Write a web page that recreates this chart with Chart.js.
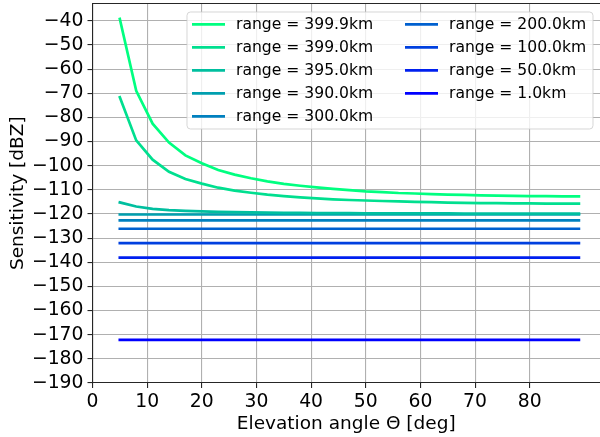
<!DOCTYPE html>
<html>
<head>
<meta charset="utf-8">
<script src="https://cdn.jsdelivr.net/npm/chart.js@4/dist/chart.umd.min.js"></script>
<style>
  html, body { margin: 0; padding: 0; background: #fff; overflow: hidden; }
  #wrap { width: 600px; height: 437px; position: relative; }
  #c { display: block; }
</style>
</head>
<body>
<div id="wrap"><canvas id="c" width="600" height="437"></canvas></div>
<script>
// Elevation angles [deg]
const elevation = [5, 8, 11, 14, 17, 20, 23, 26, 29, 32, 35, 38, 41, 44, 47, 50,
                   53, 56, 59, 62, 65, 68, 71, 74, 77, 80, 83, 86, 89];

// Sensitivity [dBZ] per range
const sens399_9 = [-39.2, -69.0, -82.6, -90.4, -95.7, -99.0, -101.8, -103.7, -105.2, -106.5,
                   -107.5, -108.3, -109.0, -109.6, -110.1, -110.6, -110.9, -111.3, -111.5,
                   -111.8, -112.0, -112.1, -112.3, -112.4, -112.5, -112.6, -112.6, -112.7, -112.7];
const sens399_0 = [-71.6, -89.5, -97.5, -102.5, -105.5, -107.4, -109.1, -110.3, -111.2, -112.0,
                   -112.6, -113.1, -113.5, -113.9, -114.2, -114.4, -114.6, -114.8, -115.0,
                   -115.1, -115.3, -115.4, -115.5, -115.5, -115.6, -115.6, -115.7, -115.7, -115.7];
const sens395_0 = [-115.2, -116.9, -117.9, -118.4, -118.7, -118.9, -119.1, -119.2, -119.3, -119.4,
                   -119.5, -119.5, -119.6, -119.6, -119.6, -119.7, -119.7, -119.7, -119.7,
                   -119.7, -119.7, -119.8, -119.8, -119.8, -119.8, -119.8, -119.8, -119.8, -119.8];
const sens390_0 = elevation.map(() => -120.2);
const sens300_0 = elevation.map(() => -122.6);
const sens200_0 = elevation.map(() => -126.1);
const sens100_0 = elevation.map(() => -132.1);
const sens50_0  = elevation.map(() => -138.1);
const sens1_0   = elevation.map(() => -172.1);

const rangeLabels = ['range = 399.9km', 'range = 399.0km', 'range = 395.0km', 'range = 390.0km',
                     'range = 300.0km', 'range = 200.0km', 'range = 100.0km', 'range = 50.0km',
                     'range = 1.0km'];
const seriesValues = [sens399_9, sens399_0, sens395_0, sens390_0, sens300_0,
                      sens200_0, sens100_0, sens50_0, sens1_0];
// winter colormap, green end to blue end
const seriesColors = ['rgb(0,255,128)', 'rgb(0,223,143)', 'rgb(0,191,159)', 'rgb(0,159,175)',
                      'rgb(0,128,191)', 'rgb(0,96,207)', 'rgb(0,64,223)', 'rgb(0,32,239)',
                      'rgb(0,0,255)'];

const xTicks = [0, 10, 20, 30, 40, 50, 60, 70, 80];
const yTicks = [-190, -180, -170, -160, -150, -140, -130, -120, -110, -100,
                -90, -80, -70, -60, -50, -40];

const FONT = 'DejaVu Sans';
const TICK_SIZE = 18.8;
const TITLE_SIZE = 18.5;
const LEGEND_SIZE = 15.6;
const minus = v => String(v).replace('-', '\u2212');
const gridColor = list => c => (c.tick && list.includes(c.tick.value)) ? '#b0b0b0' : 'rgba(0,0,0,0)';

const datasets = seriesValues.map((vals, i) => ({
  label: rangeLabels[i],
  data: elevation.map((x, j) => ({ x: x, y: vals[j] })),
  borderColor: seriesColors[i],
  backgroundColor: seriesColors[i],
  borderWidth: 2.7,
  borderCapStyle: 'square',
  pointRadius: 0,
  tension: 0,
  fill: false
}));

// top spine and the boxed two-column legend
const frameAndLegend = {
  id: 'frameAndLegend',
  afterDatasetsDraw(chart) {
    const { ctx, chartArea } = chart;
    ctx.save();
    ctx.strokeStyle = '#262626';
    ctx.lineWidth = 1.1;
    ctx.beginPath();
    ctx.moveTo(chartArea.left, chartArea.top);
    ctx.lineTo(chartArea.right, chartArea.top);
    ctx.stroke();

    const bx = 187, by = 12, bw = 406, bh = 117, r = 3.5;
    ctx.beginPath();
    ctx.moveTo(bx + r, by);
    ctx.arcTo(bx + bw, by, bx + bw, by + bh, r);
    ctx.arcTo(bx + bw, by + bh, bx, by + bh, r);
    ctx.arcTo(bx, by + bh, bx, by, r);
    ctx.arcTo(bx, by, bx + bw, by, r);
    ctx.closePath();
    ctx.fillStyle = 'rgba(255,255,255,0.8)';
    ctx.fill();
    ctx.strokeStyle = 'rgba(204,204,204,0.8)';
    ctx.lineWidth = 1;
    ctx.stroke();

    ctx.font = LEGEND_SIZE + 'px "' + FONT + '"';
    ctx.textBaseline = 'middle';
    ctx.textAlign = 'left';
    chart.data.datasets.forEach((ds, i) => {
      const col = i < 5 ? 0 : 1;
      const row = i < 5 ? i : i - 5;
      const hx = col === 0 ? 192 : 405;
      const y = 24.3 + row * 23;
      ctx.strokeStyle = ds.borderColor;
      ctx.lineWidth = 2.7;
      ctx.lineCap = 'butt';
      ctx.beginPath();
      ctx.moveTo(hx, y);
      ctx.lineTo(hx + 33, y);
      ctx.stroke();
      ctx.fillStyle = '#000';
      ctx.fillText(ds.label, hx + 44, y + 1);
    });
    ctx.restore();
  }
};

new Chart(document.getElementById('c'), {
  type: 'line',
  data: { datasets },
  options: {
    responsive: false,
    animation: false,
    events: [],
    layout: { padding: { top: 3.5, right: 0, bottom: 0, left: 0 } },
    plugins: { legend: { display: false }, tooltip: { enabled: false } },
    scales: {
      x: {
        type: 'linear',
        min: 0,
        max: 92.86,
        afterBuildTicks: s => { s.ticks = xTicks.map(v => ({ value: v })); },
        afterFit: s => { s.height = 54; s.paddingLeft = 0; s.paddingRight = 0; },
        grid: { color: gridColor(xTicks), lineWidth: 1.1, tickColor: '#262626', tickLength: 5 },
        border: { color: '#262626', width: 1.1 },
        ticks: {
          color: '#000', padding: 3, maxRotation: 0, autoSkip: false,
          font: { family: FONT, size: TICK_SIZE },
          callback: v => minus(v)
        },
        title: {
          display: true, text: 'Elevation angle \u0398 [deg]', color: '#000',
          font: { family: FONT, size: TITLE_SIZE }, padding: { top: 0, bottom: 1.5 }
        }
      },
      y: {
        type: 'linear',
        min: -190,
        max: -32.8,
        afterBuildTicks: s => { s.ticks = yTicks.map(v => ({ value: v })); },
        afterFit: s => { s.width = 92.5; s.paddingTop = 0; s.paddingBottom = 0; },
        grid: { color: gridColor(yTicks), lineWidth: 1.1, tickColor: '#262626', tickLength: 5 },
        border: { color: '#262626', width: 1.1 },
        ticks: {
          color: '#000', padding: 4, autoSkip: false,
          font: { family: FONT, size: TICK_SIZE },
          callback: v => minus(v)
        },
        title: {
          display: true, text: 'Sensitivity [dBZ]', color: '#000',
          font: { family: FONT, size: TITLE_SIZE }, padding: { top: 7, bottom: 0 }
        }
      }
    }
  },
  plugins: [frameAndLegend]
});
</script>
</body>
</html>
